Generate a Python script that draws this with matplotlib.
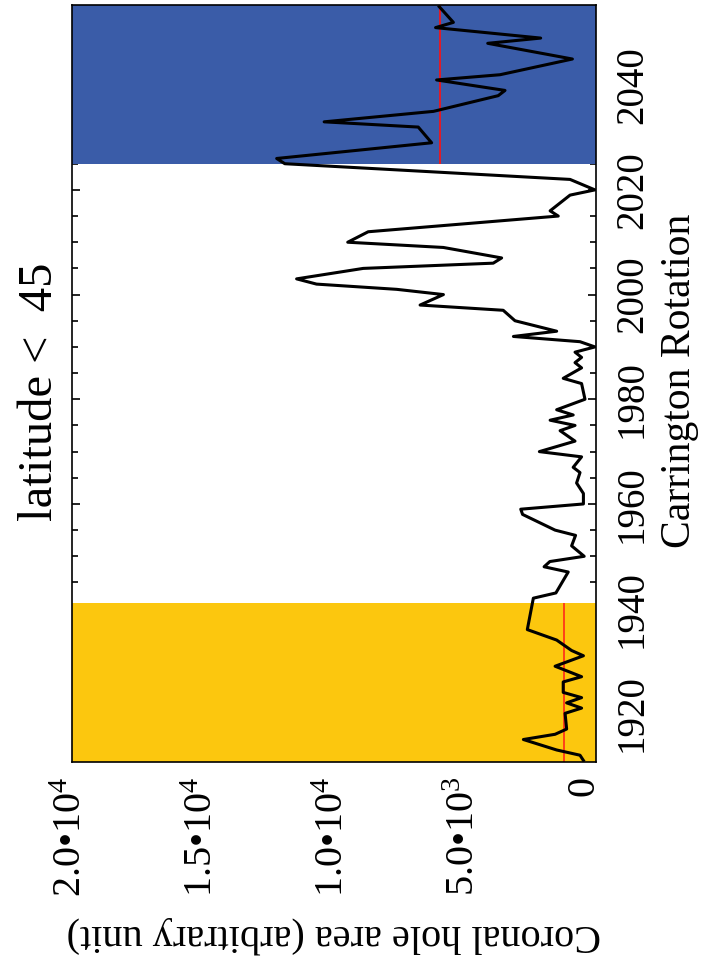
import matplotlib.pyplot as plt
import matplotlib.transforms as mtransforms
from matplotlib.ticker import MultipleLocator

plt.rcParams["font.family"] = ["Liberation Serif", "DejaVu Serif"]
plt.rcParams["mathtext.fontset"] = "custom"
plt.rcParams["mathtext.rm"] = "Liberation Serif"
plt.rcParams["mathtext.default"] = "regular"

# Carrington rotation number and coronal hole area
cr = [1911, 1912, 1913, 1915, 1916, 1917, 1920, 1921, 1922, 1923,
      1924, 1926, 1927, 1929, 1931, 1932, 1934, 1936, 1942, 1943,
      1947, 1948, 1949, 1950, 1952, 1954, 1955, 1958, 1959, 1960,
      1962, 1964, 1966, 1967, 1969, 1970, 1972, 1974, 1975, 1976,
      1977, 1978, 1980, 1983, 1984, 1986, 1987, 1988, 1989, 1990,
      1991, 1992, 1993, 1995, 1997, 1998, 2000, 2001, 2002, 2003,
      2005, 2006, 2007, 2009, 2010, 2012, 2015, 2016, 2019, 2020,
      2022, 2025, 2026, 2029, 2032, 2033, 2035, 2038, 2039, 2041,
      2042, 2045, 2048, 2049, 2051, 2052, 2055]
area = [480, 610, 1500, 2770, 1560, 1120, 1180, 550, 1120, 550,
        1250, 1250, 550, 1560, 480, 930, 1500, 2620, 2390, 1530,
        1060, 1980, 1760, 450, 930, 780, 1560, 2800, 2870, 480,
        480, 740, 610, 870, 550, 2160, 800, 1370, 800, 1750,
        870, 1500, 420, 550, 1250, 550, 800, 550, 800, 40,
        610, 3150, 1500, 3090, 3540, 6710, 5820, 7600, 10660, 11420,
        8880, 3920, 3600, 5820, 9470, 8690, 1440, 1750, 990, 40,
        990, 11870, 12180, 6270, 6780, 10370, 6200, 3730, 3470, 6080,
        3660, 900, 4130, 2110, 6120, 5440, 5980]

cr_min, cr_max = 1910.7, 2055.3

# shaded periods and their mean area
yellow_end = 1941
yellow_mean = 1210
blue_start = 2025
blue_mean = 5940

area_ticks = [0, 5000, 10000, 15000, 20000]
area_labels = ["0", "5.0•10$^3$", "1.0•10$^4$", "1.5•10$^4$", "2.0•10$^4$"]

fig = plt.figure(figsize=(7.02, 9.63), dpi=100)
ax = fig.add_axes([0.1021, 0.2087, 0.7469, 0.786])

ax.axhspan(cr_min, yellow_end, color="#FCC70E", lw=0, zorder=2)
ax.axhspan(blue_start, cr_max, color="#3A5CA8", lw=0, zorder=2)

ax.vlines(yellow_mean, cr_min, yellow_end, color="#FF2A1A", lw=1.2, zorder=3)
ax.vlines(blue_mean, blue_start, cr_max, color="#FF1010", lw=1.2, zorder=3)

ax.plot(area, cr, color="black", lw=2.2, zorder=4)

ax.set_xlim(20000, 0)
ax.set_ylim(cr_min, cr_max)

ax.set_xticks(area_ticks)
ax.set_xticklabels(area_labels, rotation=90, fontsize=29)
ax.tick_params(axis="x", length=0, pad=10)

# the "0" label sits a bit inside the axis end, as in the original
zero_label = ax.get_xticklabels()[0]
zero_label.set_transform(zero_label.get_transform() +
                         mtransforms.ScaledTranslation(-0.12, 0, fig.dpi_scale_trans))

ax.yaxis.set_major_locator(MultipleLocator(20))
ax.yaxis.set_minor_locator(MultipleLocator(5))
ax.tick_params(axis="y", which="both", direction="in", left=True, right=True,
               labelleft=False, labelright=True, labelsize=28, pad=13)
ax.tick_params(axis="y", which="major", length=6, width=1.2)
ax.tick_params(axis="y", which="minor", length=4.5, width=1.2)
for lab in ax.get_yticklabels():
    lab.set_rotation(90)
    lab.set_va("center")

for sp in ax.spines.values():
    sp.set_linewidth(1.2)
    sp.set_zorder(5)

fig.text(40 / 702, 1 - 392 / 963, "latitude <  45", rotation=90,
         ha="center", va="center", fontsize=35)
fig.text(680 / 702, 1 - 381 / 963, "Carrington Rotation", rotation=90,
         ha="center", va="center", fontsize=30)
fig.text(334 / 702, 1 - 935 / 963, "Coronal hole area (arbitrary unit)",
         rotation=180, ha="center", va="center", fontsize=29)

fig.savefig("out.png", dpi=100)
